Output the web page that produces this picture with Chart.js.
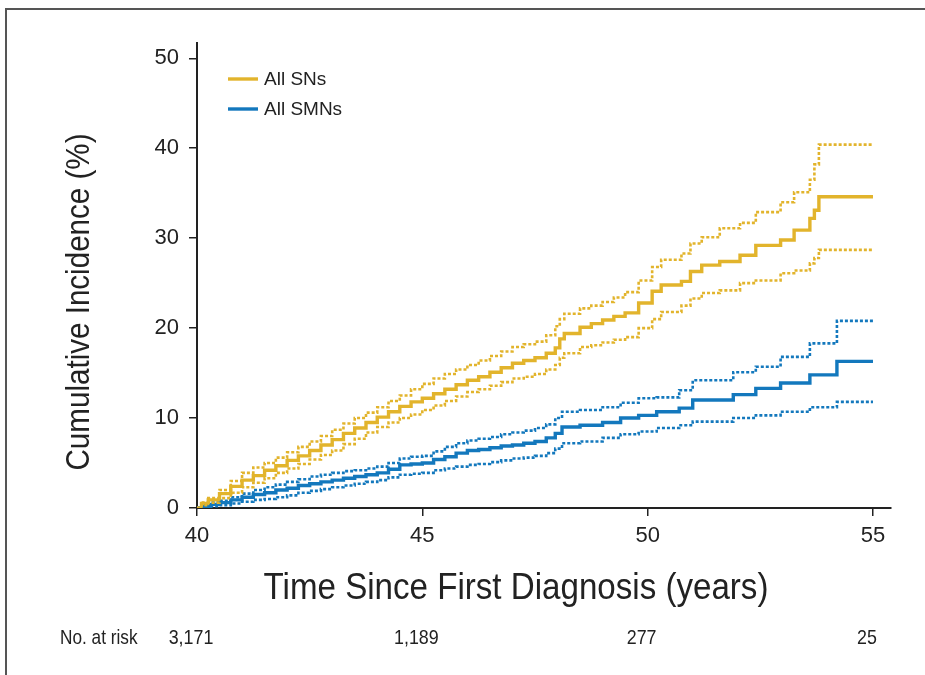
<!DOCTYPE html>
<html>
<head>
<meta charset="utf-8">
<script src="https://cdn.jsdelivr.net/npm/chart.js@4.4.1/dist/chart.umd.min.js"></script>
<style>
  body { margin: 0; background: #fff; }
  canvas { display: block; }
</style>
</head>
<body>
<canvas id="km" width="925" height="675"></canvas>
<script>
// years since first diagnosis (step points), cumulative incidence in %
let snTime  = [40, 40.1, 40.25, 40.5, 40.75, 41, 41.25, 41.5, 41.75, 42, 42.25, 42.5, 42.75, 43, 43.25, 43.5, 43.75, 44, 44.25, 44.5, 44.75, 45, 45.25, 45.5, 45.75, 46, 46.25, 46.5, 46.75, 47, 47.25, 47.5, 47.75, 47.95, 48.05, 48.15,
               48.5, 48.75, 49, 49.25, 49.5, 49.8, 50.1, 50.3, 50.75, 50.95, 51.2, 51.6, 52.05, 52.4, 52.95, 53.25, 53.6, 53.7, 53.8, 55];
let snEst   = [0, 0.5, 0.9, 1.6, 2.4, 3.1, 3.6, 4.2, 4.7, 5.3, 5.8, 6.4, 7.0, 7.6, 8.3, 8.9, 9.5, 10.1, 10.7, 11.3, 11.8, 12.2, 12.7, 13.2, 13.7, 14.2, 14.6, 15.1, 15.6, 16.1, 16.4, 16.7, 17.2, 17.8, 18.8, 19.4,
               20.1, 20.5, 20.9, 21.3, 21.7, 22.8, 24.1, 24.8, 25.2, 26.3, 27.0, 27.4, 28.1, 29.2, 29.8, 30.9, 32.2, 33.1, 34.6, 34.6];
let snLow   = [0, 0.3, 0.6, 1.1, 1.7, 2.3, 2.8, 3.3, 3.9, 4.4, 4.9, 5.4, 5.9, 6.4, 7.1, 7.7, 8.4, 9.0, 9.5, 10.0, 10.4, 10.9, 11.4, 11.9, 12.4, 12.9, 13.2, 13.6, 14.0, 14.4, 14.6, 14.9, 15.4, 15.9, 16.7, 17.2,
               17.9, 18.1, 18.4, 18.7, 19.0, 20.0, 21.0, 21.8, 22.5, 23.3, 23.9, 24.2, 25.0, 25.3, 26.1, 26.4, 27.2, 27.8, 28.7, 28.7];
let snHigh  = [0, 0.6, 1.1, 2.0, 3.0, 3.9, 4.5, 5.0, 5.6, 6.2, 6.8, 7.4, 8.0, 8.7, 9.4, 10.0, 10.6, 11.2, 11.9, 12.5, 13.2, 13.8, 14.4, 14.9, 15.4, 15.9, 16.4, 16.9, 17.4, 17.9, 18.2, 18.5, 19.2, 20.2, 21.0, 21.6,
               22.2, 22.5, 22.9, 23.4, 24.0, 25.3, 26.8, 27.6, 28.3, 29.4, 30.1, 31.1, 31.7, 32.9, 34.0, 35.1, 36.5, 38.2, 40.4, 40.4];

let smnTime = [40, 40.15, 40.3, 40.5, 40.75, 41, 41.25, 41.5, 41.75, 42, 42.25, 42.5, 42.75, 43, 43.25, 43.5, 43.75, 44, 44.25, 44.5, 44.75, 45, 45.25, 45.5, 45.75, 46, 46.25, 46.5, 46.75, 47, 47.25, 47.5, 47.75, 47.95, 48.1,
               48.5, 49, 49.4, 49.8, 50.2, 50.7, 51.0, 51.9, 52.4, 52.95, 53.6, 54.2, 55];
let smnEst  = [0, 0.2, 0.4, 0.6, 0.9, 1.2, 1.5, 1.7, 2.0, 2.2, 2.5, 2.7, 2.9, 3.1, 3.3, 3.5, 3.7, 3.9, 4.3, 4.8, 4.9, 5.0, 5.4, 5.7, 6.1, 6.4, 6.5, 6.7, 6.9, 7.0, 7.2, 7.4, 7.8, 8.3, 9.0,
               9.2, 9.5, 10.0, 10.3, 10.7, 11.1, 12.0, 12.6, 13.3, 13.9, 14.8, 16.3, 16.3];
let smnLow  = [0, 0.1, 0.2, 0.3, 0.5, 0.7, 0.9, 1.0, 1.2, 1.4, 1.7, 1.9, 2.1, 2.3, 2.5, 2.7, 2.9, 3.1, 3.4, 3.7, 3.8, 3.9, 4.2, 4.4, 4.6, 4.8, 4.9, 5.1, 5.3, 5.5, 5.6, 5.8, 6.1, 6.6, 7.2,
               7.4, 7.8, 8.2, 8.5, 8.9, 9.2, 9.6, 10.0, 10.3, 10.7, 11.2, 11.8, 11.8];
let smnHigh = [0, 0.3, 0.6, 0.8, 1.2, 1.6, 2.0, 2.3, 2.6, 2.9, 3.2, 3.5, 3.7, 3.9, 4.1, 4.2, 4.4, 4.6, 5.0, 5.5, 5.7, 5.8, 6.3, 6.8, 7.2, 7.5, 7.7, 7.9, 8.2, 8.4, 8.6, 8.9, 9.3, 10.0, 10.7,
               10.9, 11.2, 11.7, 12.2, 12.3, 13.1, 14.2, 15.1, 15.7, 16.8, 18.3, 20.8, 20.8];

let xTicks = [40, 45, 50, 55];
let yTicks = [0, 10, 20, 30, 40, 50];
let riskAt = [40, 45, 50, 55];
let riskNum = ["3,171", "1,189", "277", "25"];

let gold = "#e2b42c";
let blue = "#1378bd";

function pts(t, v) {
    return t.map((x, i) => ({ x: x, y: v[i] }));
}

function line(label, t, v, color, dotted) {
    return {
        label: label,
        data: pts(t, v),
        borderColor: color,
        borderWidth: dotted ? 2.6 : 3.4,
        borderDash: dotted ? [3, 2] : [],
        stepped: true,
        pointRadius: 0,
        fill: false
    };
}

let sans = "'Liberation Sans', Arial, sans-serif";

// draws text squeezed horizontally, the original uses a condensed face
function narrowText(ctx, txt, x, y, size, sx) {
    ctx.save();
    ctx.translate(x, y);
    ctx.scale(sx, 1);
    ctx.font = size + "px " + sans;
    ctx.fillText(txt, 0, 0);
    ctx.restore();
}

// frame, axis titles, legend, numbers at risk
let extras = {
    id: "extras",
    afterDraw(chart) {
        let ctx = chart.ctx;
        let xs = chart.scales.x;
        ctx.save();
        ctx.strokeStyle = "#555";
        ctx.lineWidth = 2;
        ctx.beginPath();
        ctx.moveTo(6, 675);
        ctx.lineTo(6, 9);
        ctx.lineTo(925, 9);
        ctx.stroke();

        ctx.fillStyle = "#222";
        ctx.textAlign = "center";
        ctx.textBaseline = "middle";
        narrowText(ctx, "Time Since First Diagnosis (years)", 516, 589, 36, 0.92);

        ctx.save();
        ctx.translate(80, 302);
        ctx.rotate(-Math.PI / 2);
        narrowText(ctx, "Cumulative Incidence (%)", 0, 0, 34, 0.87);
        ctx.restore();

        // legend
        let items = [["All SNs", gold, 79], ["All SMNs", blue, 109]];
        ctx.font = "19px " + sans;
        ctx.textAlign = "left";
        items.forEach(it => {
            ctx.strokeStyle = it[1];
            ctx.lineWidth = 3.4;
            ctx.beginPath();
            ctx.moveTo(228, it[2]);
            ctx.lineTo(258, it[2]);
            ctx.stroke();
            ctx.fillStyle = "#222";
            ctx.fillText(it[0], 264, it[2] + 1);
        });

        // no. at risk
        narrowText(ctx, "No. at risk", 60, 638, 21, 0.82);
        ctx.textAlign = "center";
        riskAt.forEach((v, i) => {
            narrowText(ctx, riskNum[i], xs.getPixelForValue(v) - 6, 638, 21, 0.85);
        });
        ctx.restore();
    }
};

let ctx = document.getElementById("km");
let chart = new Chart(ctx, {
    type: "line",
    data: {
        datasets: [
            line("SN upper", snTime, snHigh, gold, true),
            line("SN lower", snTime, snLow, gold, true),
            line("SMN upper", smnTime, smnHigh, blue, true),
            line("SMN lower", smnTime, smnLow, blue, true),
            line("All SNs", snTime, snEst, gold, false),
            line("All SMNs", smnTime, smnEst, blue, false)
        ]
    },
    options: {
        responsive: false,
        animation: false,
        devicePixelRatio: 1,
        layout: { padding: { left: 0, top: 43, right: 34, bottom: 0 } },
        plugins: { legend: { display: false }, tooltip: { enabled: false } },
        scales: {
            x: {
                type: "linear",
                min: 40,
                max: 55.4,
                afterBuildTicks: s => { s.ticks = xTicks.map(v => ({ value: v })); },
                afterFit: s => { s.height = 167; },
                grid: { drawOnChartArea: false, color: "#222", lineWidth: 1.5, tickLength: 8 },
                border: { color: "#222", width: 2 },
                ticks: { color: "#222", font: { family: sans, size: 22 }, padding: 7, maxRotation: 0 }
            },
            y: {
                min: 0,
                max: 51.7,
                afterBuildTicks: s => { s.ticks = yTicks.map(v => ({ value: v })); },
                afterFit: s => { s.width = 197; },
                grid: { drawOnChartArea: false, color: "#222", lineWidth: 1.5, tickLength: 8 },
                border: { color: "#222", width: 2 },
                ticks: { color: "#222", font: { family: sans, size: 22 }, padding: 10 }
            }
        }
    },
    plugins: [extras]
});
</script>
</body>
</html>
